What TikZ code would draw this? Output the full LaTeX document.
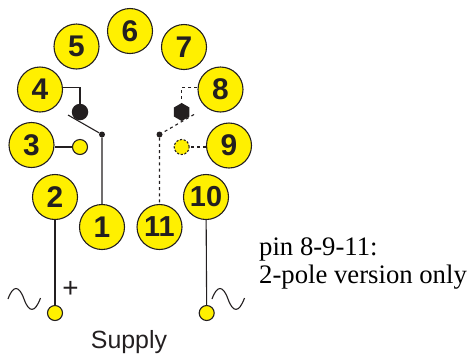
\documentclass[tikz,border=0pt]{standalone}
\usepackage{fontspec}
\setmainfont{Liberation Serif}
\setsansfont{Liberation Sans}
\definecolor{pinyellow}{RGB}{255,240,0}
\definecolor{ink}{RGB}{35,31,32}
\usetikzlibrary{shapes.geometric}
\tikzset{
  pin/.style={circle,draw=ink,fill=pinyellow,line width=1.1pt,minimum size=45bp,inner sep=0pt,text=ink,font=\sffamily\bfseries\fontsize{30}{30}\selectfont},
  pinwide/.style={pin,font=\sffamily\bfseries\fontsize{29}{29}\selectfont},
  term/.style={circle,draw=ink,fill=pinyellow,line width=1.1pt,minimum size=15bp,inner sep=0pt},
  dashterm/.style={term,dash pattern=on 2.2pt off 1.6pt},
  contact/.style={circle,fill=ink,minimum size=16.5bp,inner sep=0pt},
  hexcontact/.style={regular polygon,regular polygon sides=6,shape border rotate=30,fill=ink,minimum size=18bp,inner sep=0pt},
  pivot/.style={circle,fill=ink,minimum size=6bp,inner sep=0pt},
  wire/.style={draw=ink,line width=1.1pt},
  dashwire/.style={draw=ink,line width=1.1pt,dash pattern=on 3pt off 3.2pt},
  wave/.style={draw=ink,line width=1.1pt}
}
\begin{document}
\begin{tikzpicture}[x=1bp,y=-1bp]
\useasboundingbox (0,0) rectangle (467,356);
\node[pin] (p1) at (102,227) {1};
\node[pin] (p2) at (55,197) {2};
\node[pin] (p3) at (31.5,145) {3};
\node[pin] (p4) at (40,89.5) {4};
\node[pin] (p5) at (76.5,46.5) {5};
\node[pin] (p6) at (130,31) {6};
\node[pin] (p7) at (184,47) {7};
\node[pin] (p8) at (220.5,89.5) {8};
\node[pin] (p9) at (229,145.5) {9};
\node[pinwide] (p10) at (206,197) {10};
\node[pinwide] (p11) at (159.5,227) {11};
\node[term] (t3) at (80,147) {};
\node[contact] (c4) at (80,112) {};
\node[pivot] (pv1) at (102,134.5) {};
\coordinate (b1) at (68,115);
\coordinate (k4) at (80,87.5);
\node[dashterm] (t9) at (181.7,147) {};
\node[hexcontact] (c8) at (181.7,112) {};
\node[pivot] (pv11) at (159.5,134.5) {};
\coordinate (b11) at (194,114.5);
\coordinate (k8) at (181.7,87.5);
\node[term] (sl) at (55,313) {};
\node[term] (sr) at (206.7,313) {};
\draw[wire] (p4.east |- k4) -- (k4) -- (c4);
\draw[wire] (p3.east |- t3) -- (t3);
\draw[wire] (b1) -- (pv1) -- (p1);
\draw[dashwire] (p8.west |- k8) -- (k8) -- (c8);
\draw[dashwire] (p9.west |- t9) -- (t9);
\draw[dashwire] (b11) -- (pv11) -- (p11);
\draw[wire] (p2) -- (sl);
\draw[wire] (p10) -- (sr);
\draw[wave] (8,299) .. controls (13,285) and (19,285) .. (24,299) .. controls (29,313) and (35,313) .. (40.5,298);
\draw[wave] (212,299) .. controls (217,285) and (223,285) .. (228,299) .. controls (233,313) and (239,313) .. (244.5,298);
\node[inner sep=0pt,text=ink,font=\sffamily\fontsize{28}{28}\selectfont] (plus) at (70.5,289) {+};
\node[inner sep=0pt,text=ink,font=\sffamily\fontsize{25}{25}\selectfont] (sup) at (129,342) {Supply};
\node[anchor=base west,inner sep=0pt,text=black,font=\fontsize{26.8}{26.8}\selectfont] (n1) at (259,255) {pin 8-9-11:};
\node[anchor=base west,inner sep=0pt,text=black,font=\fontsize{26.8}{26.8}\selectfont] (n2) at (259,283) {2-pole version only};
\end{tikzpicture}
\end{document}
